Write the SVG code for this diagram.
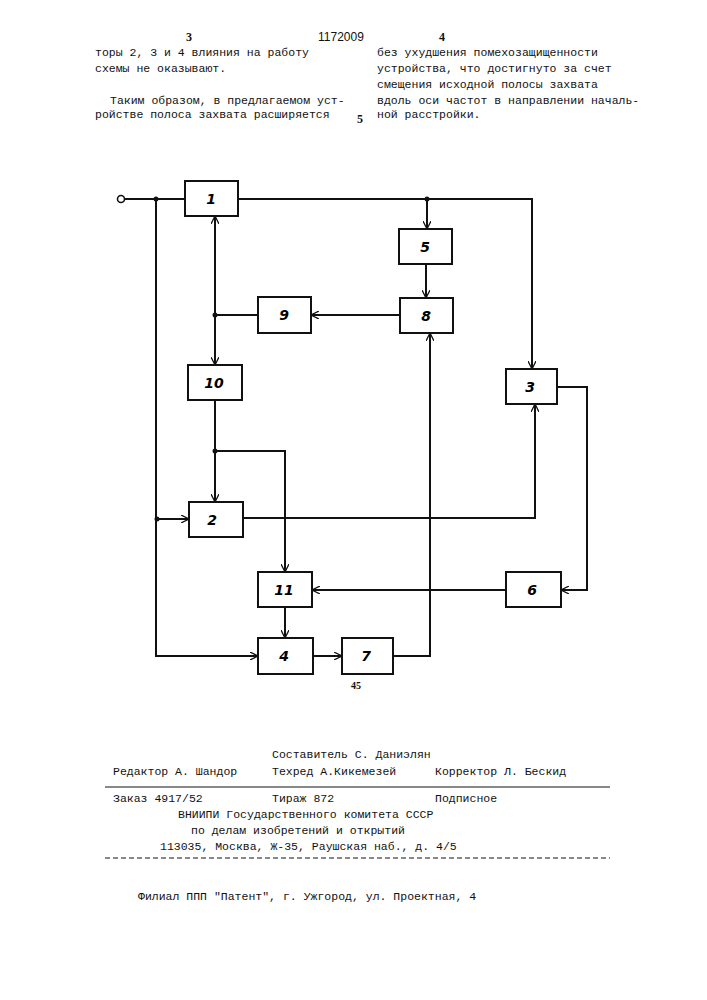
<svg xmlns="http://www.w3.org/2000/svg" width="707" height="1000" viewBox="0 0 707 1000">
<defs>
<marker id="a" viewBox="0 0 10 10" refX="10" refY="5" markerWidth="8" markerHeight="8" orient="auto-start-reverse" markerUnits="userSpaceOnUse"><path d="M0,0 L10,5 L0,10" fill="none" stroke="#111" stroke-width="1.6"/></marker>
</defs>
<style>
.b rect{fill:#fff;stroke:#111;stroke-width:2}
.b text{font-family:"DejaVu Sans",sans-serif;font-style:italic;font-weight:bold;font-size:14px;text-anchor:middle}
.c path{fill:none;stroke:#111;stroke-width:2}
.t{font-family:"Liberation Mono",monospace;font-size:11.5px;fill:#111}
.n{font-family:"Liberation Serif",serif;font-weight:bold;font-size:12px;fill:#111;text-anchor:middle}
</style>
<rect width="707" height="1000" fill="#fff"/>
<text class="n" x="189" y="41">3</text>
<text class="t" x="318" y="41" style="font-family:'Liberation Sans',sans-serif;font-size:12px">1172009</text>
<text class="n" x="442" y="41">4</text>
<text class="t" x="95" y="56">торы 2, 3 и 4 влияния на работу</text>
<text class="t" x="95" y="72">схемы не оказывают.</text>
<text class="t" x="110" y="104">Таким образом, в предлагаемом уст-</text>
<text class="t" x="95" y="118">ройстве полоса захвата расширяется</text>
<text class="n" x="360" y="123">5</text>
<text class="t" x="377" y="56">без ухудшения помехозащищенности</text>
<text class="t" x="377" y="72">устройства, что достигнуто за счет</text>
<text class="t" x="377" y="88">смещения исходной полосы захвата</text>
<text class="t" x="377" y="104">вдоль оси частот в направлении началь-</text>
<text class="t" x="377" y="118">ной расстройки.</text>

<g class="c" id="connectors">
<path d="M125,199 H185"/>
<path d="M238,199 H532 V369" marker-end="url(#a)"/>
<path d="M427,199 V229" marker-end="url(#a)"/>
<path d="M426,264 V298" marker-end="url(#a)"/>
<path d="M400,315 H311" marker-end="url(#a)"/>
<path d="M258,315 H215"/>
<path d="M215,216 V365" marker-start="url(#a)" marker-end="url(#a)"/>
<path d="M215,400 V502" marker-end="url(#a)"/>
<path d="M215,451 H285 V572" marker-end="url(#a)"/>
<path d="M156,199 V656 H258" marker-end="url(#a)"/>
<path d="M157,519 H189" marker-end="url(#a)"/>
<path d="M243,518 H535 V404" marker-end="url(#a)"/>
<path d="M557,387 H587 V590 H561" marker-end="url(#a)"/>
<path d="M506,590 H312" marker-end="url(#a)"/>
<path d="M285,607 V638" marker-end="url(#a)"/>
<path d="M313,656 H342" marker-end="url(#a)"/>
<path d="M393,656 H430 V333" marker-end="url(#a)"/>
</g>
<circle cx="121" cy="199" r="3.5" fill="#fff" stroke="#111" stroke-width="1.6"/>
<g fill="#111"><circle cx="156" cy="199" r="2.5"/><circle cx="427" cy="199" r="2.5"/><circle cx="215" cy="315" r="2.5"/><circle cx="215" cy="451" r="2.5"/><circle cx="157" cy="519" r="2.5"/></g>

<g class="b" id="n1"><rect x="185" y="181" width="53" height="35"/><text x="211" y="204">1</text></g>
<g class="b" id="n5"><rect x="399" y="229" width="53" height="35"/><text x="425" y="252">5</text></g>
<g class="b" id="n8"><rect x="400" y="298" width="53" height="35"/><text x="426" y="321">8</text></g>
<g class="b" id="n9"><rect x="258" y="297" width="53" height="36"/><text x="284" y="320">9</text></g>
<g class="b" id="n10"><rect x="188" y="365" width="54" height="35"/><text x="214" y="388">10</text></g>
<g class="b" id="n3"><rect x="506" y="369" width="51" height="35"/><text x="530" y="392">3</text></g>
<g class="b" id="n2"><rect x="189" y="502" width="54" height="35"/><text x="212" y="525">2</text></g>
<g class="b" id="n11"><rect x="258" y="572" width="54" height="35"/><text x="284" y="595">11</text></g>
<g class="b" id="n6"><rect x="506" y="572" width="55" height="35"/><text x="532" y="595">6</text></g>
<g class="b" id="n4"><rect x="258" y="638" width="55" height="36"/><text x="284" y="661">4</text></g>
<g class="b" id="n7"><rect x="342" y="638" width="51" height="36"/><text x="366" y="661">7</text></g>
<text class="n" x="356" y="689" style="font-size:10px">45</text>

<text class="t" x="272" y="758">Составитель С. Даниэлян</text>
<text class="t" x="113" y="775">Редактор А. Шандор</text>
<text class="t" x="272" y="775">Техред А.Кикемезей</text>
<text class="t" x="435" y="775">Корректор Л. Бескид</text>
<path d="M105,787 H610" stroke="#111" stroke-width="1"/>
<text class="t" x="113" y="802">Заказ 4917/52</text>
<text class="t" x="272" y="802">Тираж 872</text>
<text class="t" x="435" y="802">Подписное</text>
<text class="t" x="178" y="818">ВНИИПИ Государственного комитета СССР</text>
<text class="t" x="191" y="834">по делам изобретений и открытий</text>
<text class="t" x="160" y="850">113035, Москва, Ж-35, Раушская наб., д. 4/5</text>
<path d="M105,858 H610" stroke="#111" stroke-width="1" stroke-dasharray="5,3"/>
<text class="t" x="138" y="900">Филиал ППП "Патент", г. Ужгород, ул. Проектная, 4</text>
</svg>
